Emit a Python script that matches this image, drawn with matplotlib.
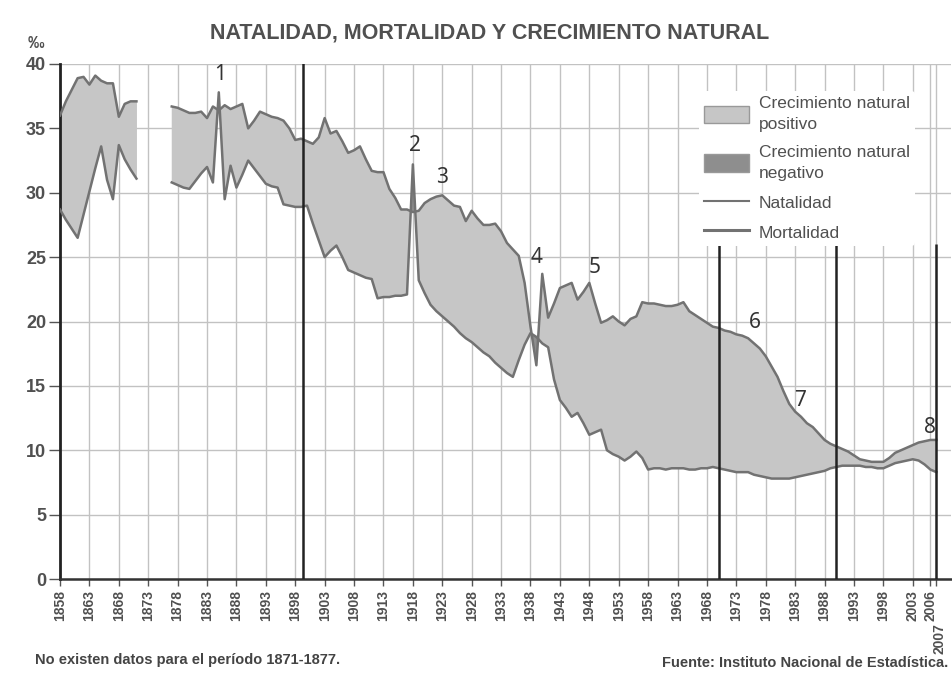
import numpy as np
import matplotlib.pyplot as plt
from matplotlib.patches import Patch
from matplotlib.lines import Line2D

plt.rcParams['font.family'] = ['Liberation Sans', 'DejaVu Sans']

# no data 1871-1877, so the series come in two pieces
years_a = list(range(1858, 1872))
years_b = list(range(1877, 2008))

natalidad_a = [36.0, 37.1, 38.0, 38.9, 39.0, 38.4, 39.1, 38.7, 38.5, 38.5, 35.9, 36.9, 37.1, 37.1]
mortalidad_a = [28.7, 27.9, 27.2, 26.5, 28.3, 30.1, 31.9, 33.6, 31.0, 29.5, 33.7, 32.6, 31.8, 31.1]

natalidad_b = [
    36.7, 36.6, 36.4,
    36.2, 36.2, 36.3, 35.8, 36.7, 36.4, 36.8, 36.5, 36.7, 36.9,
    35.0, 35.6, 36.3, 36.1, 35.9, 35.8, 35.6, 35.0, 34.1, 34.2,
    34.0, 33.8, 34.3, 35.8, 34.6, 34.8, 34.0, 33.1, 33.3, 33.6,
    32.6, 31.7, 31.6, 31.6, 30.3, 29.6, 28.7, 28.7, 28.5, 28.6,
    29.2, 29.5, 29.7, 29.8, 29.4, 29.0, 28.9, 27.8, 28.6, 28.0,
    27.5, 27.5, 27.6, 27.0, 26.1, 25.6, 25.1, 23.0, 19.6, 16.6,
    23.7, 20.3, 21.4, 22.6, 22.8, 23.0, 21.7, 22.3, 23.0, 21.4,
    19.9, 20.1, 20.4, 20.0, 19.7, 20.2, 20.4, 21.5, 21.4, 21.4,
    21.3, 21.2, 21.2, 21.3, 21.5, 20.8, 20.5, 20.2, 19.9, 19.6,
    19.5, 19.3, 19.2, 19.0, 18.9, 18.7, 18.3, 17.9, 17.3, 16.5,
    15.7, 14.6, 13.6, 13.0, 12.6, 12.1, 11.8, 11.3, 10.8, 10.5,
    10.3, 10.1, 9.9, 9.6, 9.3, 9.2, 9.1, 9.1, 9.1, 9.4,
    9.8, 10.0, 10.2, 10.4, 10.6, 10.7, 10.8, 10.8,
]
mortalidad_b = [
    30.8, 30.6, 30.4,
    30.3, 30.9, 31.5, 32.0, 30.8, 37.8, 29.5, 32.1, 30.4, 31.4,
    32.5, 31.9, 31.3, 30.7, 30.5, 30.4, 29.1, 29.0, 28.9, 28.9,
    29.0, 27.6, 26.3, 25.0, 25.5, 25.9, 25.0, 24.0, 23.8, 23.6,
    23.4, 23.3, 21.8, 21.9, 21.9, 22.0, 22.0, 22.1, 32.2, 23.2,
    22.2, 21.3, 20.8, 20.4, 20.0, 19.6, 19.1, 18.7, 18.4, 18.0,
    17.6, 17.3, 16.8, 16.4, 16.0, 15.7, 17.0, 18.2, 19.1, 18.8,
    18.3, 18.0, 15.5, 13.9, 13.3, 12.6, 12.9, 12.1, 11.2, 11.4,
    11.6, 10.0, 9.7, 9.5, 9.2, 9.5, 9.9, 9.4, 8.5, 8.6,
    8.6, 8.5, 8.6, 8.6, 8.6, 8.5, 8.5, 8.6, 8.6, 8.7,
    8.6, 8.5, 8.4, 8.3, 8.3, 8.3, 8.1, 8.0, 7.9, 7.8,
    7.8, 7.8, 7.8, 7.9, 8.0, 8.1, 8.2, 8.3, 8.4, 8.6,
    8.7, 8.8, 8.8, 8.8, 8.8, 8.7, 8.7, 8.6, 8.6, 8.8,
    9.0, 9.1, 9.2, 9.3, 9.2, 8.9, 8.5, 8.3,
]

tick_years = list(range(1858, 2004, 5)) + [2006]
y_ticks = [0, 5, 10, 15, 20, 25, 30, 35, 40]
period_years = [1970, 1990, 2007]

event_labels = ['1', '2', '3', '4', '5', '6', '7', '8']
event_years = [1885.2, 1918.3, 1922.9, 1939.1, 1948.9, 1976.1, 1983.8, 2006.0]
event_values = [39.2, 33.7, 31.2, 25.0, 24.2, 19.9, 13.9, 11.8]

col_pos = '#c6c6c6'
col_neg = '#8e8e8e'
col_line = '#727272'
col_text = '#505050'

fig = plt.figure(figsize=(9.52, 6.74), dpi=100)
ax = fig.add_axes([60 / 952, 1 - 579 / 674, 891 / 952, 515 / 674])

for yrs, nat, mort in [(years_a, natalidad_a, mortalidad_a), (years_b, natalidad_b, mortalidad_b)]:
    x = np.array(yrs, dtype=float)
    n = np.array(nat)
    m = np.array(mort)
    ax.fill_between(x, n, m, where=n >= m, interpolate=True, color=col_pos, lw=0, zorder=2)
    ax.fill_between(x, n, m, where=n < m, interpolate=True, color=col_neg, lw=0, zorder=2)
    ax.plot(x, n, color=col_line, lw=1.8, zorder=3)
    ax.plot(x, m, color=col_line, lw=1.8, zorder=3)

ax.set_xlim(1858, 2009.5)
ax.set_ylim(0, 40)
ax.set_xticks(tick_years + [2007])
ax.set_xticklabels([str(y) for y in tick_years] + [''], rotation=90, fontsize=10,
                   fontweight='bold', color=col_text)
ax.annotate('2007', xy=(2007, 0), xycoords=('data', 'axes fraction'), xytext=(2, -32),
            textcoords='offset points', rotation=90, ha='center', va='top',
            fontsize=10, fontweight='bold', color=col_text)
ax.set_yticks(y_ticks)
ax.set_yticklabels([str(v) for v in y_ticks], fontsize=13, fontweight='bold', color=col_text)
ax.tick_params(axis='x', length=5, width=1, color='#555555', pad=3)
ax.tick_params(axis='y', length=8, width=1, color='#555555', pad=2)
ax.grid(color='#c2c2c2', lw=1.0, zorder=0)
ax.set_axisbelow(True)

for s in ['top', 'right']:
    ax.spines[s].set_visible(False)
ax.spines['left'].set_linewidth(2)
ax.spines['left'].set_color('#222222')
ax.spines['bottom'].set_linewidth(1.8)
ax.spines['bottom'].set_color('#333333')

ax.axvline(1899.4, color='#222222', lw=1.8, zorder=4)
ax.vlines(period_years, 0, 26, color='#222222', lw=1.8, zorder=4)

for lab, xv, yv in zip(event_labels, event_years, event_values):
    ax.text(xv, yv, lab, ha='center', va='center', fontsize=15, color='#333333',
            family=['Noto Sans', 'DejaVu Sans'], zorder=5)

handles = [
    Patch(facecolor=col_pos, edgecolor='#999999'),
    Patch(facecolor=col_neg, edgecolor='#999999'),
    Line2D([], [], color=col_line, lw=1.5),
    Line2D([], [], color=col_line, lw=2.2),
]
labels = ['Crecimiento natural\npositivo', 'Crecimiento natural\nnegativo', 'Natalidad', 'Mortalidad']
leg = ax.legend(handles, labels, loc='upper left', bbox_to_anchor=(690 / 952, 1 - 82 / 674),
                bbox_transform=fig.transFigure, frameon=True, facecolor='white',
                edgecolor='none', framealpha=1, fontsize=12.5, handlelength=2.6,
                handleheight=1.15, labelspacing=0.7, borderpad=0.3, handletextpad=0.55)
leg.set_zorder(6)
for t in leg.get_texts():
    t.set_color(col_text)
    t.set_linespacing(1.55)

fig.text(490 / 952, 1 - 33 / 674, 'NATALIDAD, MORTALIDAD Y CRECIMIENTO NATURAL',
         ha='center', va='center', fontsize=15.5, fontweight='bold', color=col_text)
fig.text(36 / 952, 1 - 44 / 674, '‰', ha='center', va='center', fontsize=12,
         fontweight='bold', color=col_text)
fig.text(35 / 952, 1 - 660 / 674, 'No existen datos para el período 1871-1877.',
         ha='left', va='center', fontsize=10.5, fontweight='bold', color='#444444')
fig.text(948 / 952, 1 - 663 / 674, 'Fuente: Instituto Nacional de Estadística.',
         ha='right', va='center', fontsize=10.5, fontweight='bold', color='#444444')

fig.savefig('out.png', dpi=100)
